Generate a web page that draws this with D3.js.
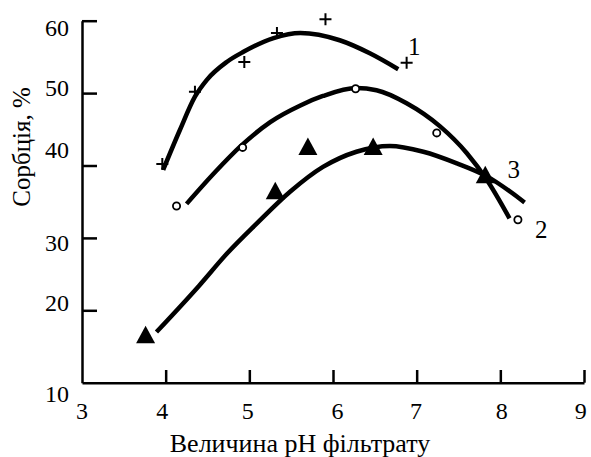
<!DOCTYPE html>
<html>
<head>
  <meta charset="utf-8">
  <script src="https://d3js.org/d3.v7.min.js"></script>
  <style>
    body { margin: 0; background: #fff; }
  </style>
</head>
<body>
  <script>
    // measured points (markers)
    const ph1 = [3.96, 4.35, 4.94, 5.33, 5.91, 6.88];
    const sorb1 = [40.2, 50.2, 54.3, 58.3, 60.2, 54.2];
    const ph2 = [4.13, 4.92, 6.27, 7.24, 8.21];
    const sorb2 = [34.4, 42.5, 50.6, 44.5, 32.5];
    const ph3 = [3.76, 5.31, 5.70, 6.48, 7.82];
    const sorb3 = [16.4, 36.3, 42.4, 42.4, 38.5];

    // fitted curves
    const fitX1 = [3.97, 4.17, 4.35, 4.49, 4.73, 4.93, 5.29, 5.61, 6.08, 6.44, 6.78];
    const fitY1 = [39.4, 44.9, 49.5, 51.8, 54.3, 55.7, 57.6, 58.3, 57.3, 55.5, 53.3];
    const fitX2 = [4.25, 4.60, 4.89, 5.25, 5.61, 5.88, 6.28, 6.52, 6.88, 7.28, 7.60, 7.84, 8.11];
    const fitY2 = [34.7, 39.2, 42.6, 46.0, 48.3, 49.6, 50.7, 50.4, 48.6, 45.4, 41.7, 38.0, 32.7];
    const fitX3 = [3.89, 4.40, 4.73, 5.09, 5.49, 5.88, 6.28, 6.68, 7.08, 7.48, 7.84, 8.29];
    const fitY3 = [17.0, 23.4, 27.8, 32.0, 36.4, 39.8, 41.9, 42.7, 41.9, 40.3, 38.5, 34.9];

    const xTicks = [3, 4, 5, 6, 7, 8, 9];
    const yTicks = [10, 20, 30, 40, 50, 60];
    const curveNames = ["1", "2", "3"];

    const W = 591, H = 457;
    const serif = "'Liberation Serif', 'DejaVu Serif', serif";
    const svg = d3.select("body").append("svg")
      .attr("width", W)
      .attr("height", H)
      .attr("font-family", serif)
      .style("display", "block");

    const x = d3.scaleLinear().domain([3, 9]).range([82, 584]);
    const y = d3.scaleLinear().domain([10, 60]).range([382.7, 20.7]);

    // axes, ticks pointing inward
    const xAxis = svg.append("g")
      .attr("transform", `translate(0,${y(10)})`)
      .call(d3.axisBottom(x).tickValues(xTicks.slice(1)).tickSize(-12.7).tickSizeOuter(0).tickFormat(""));
    const yAxis = svg.append("g")
      .attr("transform", `translate(${x(3)},0)`)
      .call(d3.axisLeft(y).tickValues(yTicks.slice(1)).tickSize(-15).tickSizeOuter(0).tickFormat(""));
    [xAxis, yAxis].forEach(g => {
      g.selectAll("path, line").attr("stroke", "#000").attr("stroke-width", 2.5);
    });

    // tick labels (the original has them a bit off the ticks)
    const yShift = { 10: 11, 20: -7, 30: 5, 40: -16, 50: -5, 60: 7 };
    const xShift = { 3: 0, 4: -3.5, 5: -1.5, 6: 4.5, 7: -0.7, 8: 1.4, 9: -3.3 };

    svg.append("g").selectAll("text")
      .data(yTicks)
      .join("text")
      .attr("font-family", serif)
      .attr("x", 69)
      .attr("y", d => y(d) + yShift[d])
      .attr("dy", "0.34em")
      .attr("text-anchor", "end")
      .attr("font-size", 24)
      .text(d => d);

    svg.append("g").selectAll("text")
      .data(xTicks)
      .join("text")
      .attr("font-family", serif)
      .attr("x", d => x(d) + xShift[d])
      .attr("y", 411)
      .attr("dy", "0.34em")
      .attr("text-anchor", "middle")
      .attr("font-size", 24)
      .text(d => d);

    svg.append("text")
      .attr("font-family", serif)
      .attr("x", 300)
      .attr("y", 452)
      .attr("text-anchor", "middle")
      .attr("font-size", 26)
      .text("Величина pH фільтрату");

    svg.append("text")
      .attr("font-family", serif)
      .attr("transform", "translate(30,147) rotate(-90)")
      .attr("text-anchor", "middle")
      .attr("font-size", 25)
      .text("Сорбція, %");

    // curves
    const line = d3.line()
      .x(d => x(d[0]))
      .y(d => y(d[1]))
      .curve(d3.curveMonotoneX);

    const fits = [
      d3.zip(fitX1, fitY1),
      d3.zip(fitX2, fitY2),
      d3.zip(fitX3, fitY3)
    ];
    fits.forEach(f => {
      svg.append("path")
        .datum(f)
        .attr("fill", "none")
        .attr("stroke", "#000")
        .attr("stroke-width", 4.5)
        .attr("stroke-linecap", "butt")
        .attr("d", line);
    });

    // markers
    const pts1 = d3.zip(ph1, sorb1);
    const pts2 = d3.zip(ph2, sorb2);
    const pts3 = d3.zip(ph3, sorb3);

    svg.append("g").selectAll("path")
      .data(pts1)
      .join("path")
      .attr("d", d => {
        const cx = x(d[0]), cy = y(d[1]), s = 6;
        return `M${cx - s},${cy}H${cx + s}M${cx},${cy - s}V${cy + s}`;
      })
      .attr("stroke", "#000")
      .attr("stroke-width", 2);

    svg.append("g").selectAll("circle")
      .data(pts2)
      .join("circle")
      .attr("cx", d => x(d[0]))
      .attr("cy", d => y(d[1]))
      .attr("r", 3.6)
      .attr("fill", "#fff")
      .attr("stroke", "#000")
      .attr("stroke-width", 1.8);

    svg.append("g").selectAll("path")
      .data(pts3)
      .join("path")
      .attr("d", d => {
        const cx = x(d[0]), cy = y(d[1]);
        return `M${cx},${cy - 10.5}L${cx + 9.5},${cy + 7}L${cx - 9.5},${cy + 7}Z`;
      })
      .attr("fill", "#000");

    // curve numbers
    const namePos = [[6.97, 56.4], [8.49, 31.1], [8.16, 39.4]];
    svg.append("g").selectAll("text")
      .data(curveNames)
      .join("text")
      .attr("font-family", serif)
      .attr("x", (d, i) => x(namePos[i][0]))
      .attr("y", (d, i) => y(namePos[i][1]))
      .attr("dy", "0.34em")
      .attr("text-anchor", "middle")
      .attr("font-size", 25)
      .text(d => d);
  </script>
</body>
</html>
